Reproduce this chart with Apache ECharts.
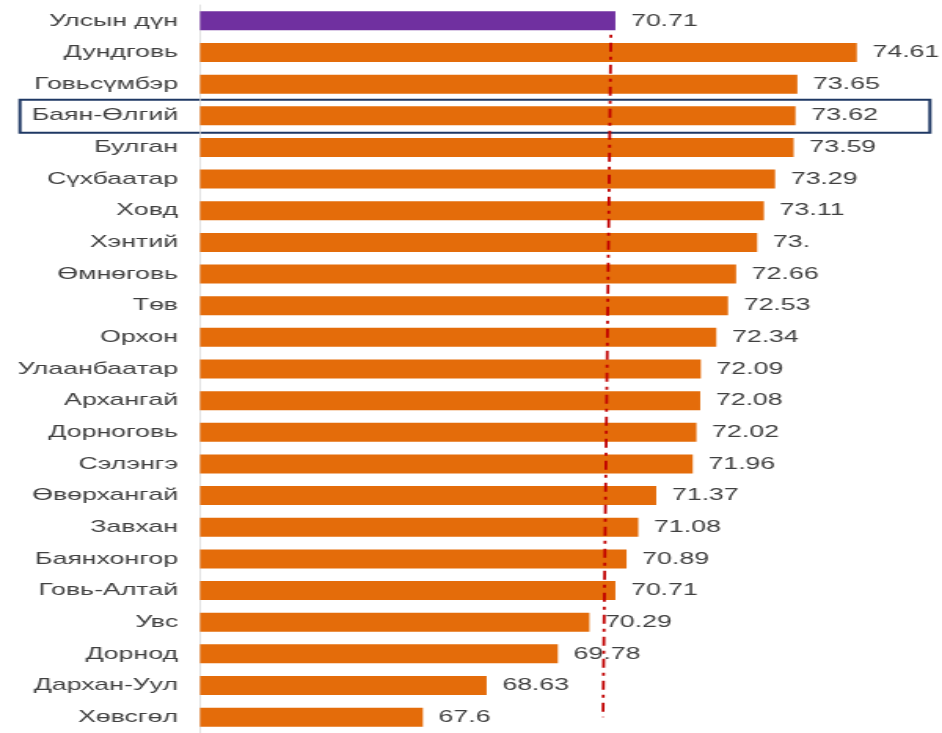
<!DOCTYPE html>
<html>
<head>
<meta charset="utf-8">
<script src="https://cdn.jsdelivr.net/npm/echarts@6/dist/echarts.min.js"></script>
<style>
html,body{margin:0;padding:0;background:#fff;overflow:hidden;}
/* эх зураг хэвтээ чиглэлд сунгагдсан тул адилхан сунгав */
#chart{width:600px;height:733px;transform:scaleX(1.57);transform-origin:0 0;}
</style>
</head>
<body>
<div id="chart"></div>
<script>
// аймгууд
var categories=['Улсын дүн','Дундговь','Говьсүмбэр','Баян-Өлгий','Булган','Сүхбаатар','Ховд','Хэнтий','Өмнөговь','Төв','Орхон','Улаанбаатар','Архангай','Дорноговь','Сэлэнгэ','Өвөрхангай','Завхан','Баянхонгор','Говь-Алтай','Увс','Дорнод','Дархан-Уул','Хөвсгөл'];
var values=[70.71,74.61,73.65,73.62,73.59,73.29,73.11,73.0,72.66,72.53,72.34,72.09,72.08,72.02,71.96,71.37,71.08,70.89,70.71,70.29,69.78,68.63,67.6];
var valueLabels=['70.71','74.61','73.65','73.62','73.59','73.29','73.11','73.','72.66','72.53','72.34','72.09','72.08','72.02','71.96','71.37','71.08','70.89','70.71','70.29','69.78','68.63','67.6'];
var avgLine=[70.64,70.51]; // улсын дундаж шугам (дээд, доод)
var boxed='Баян-Өлгий';

var chart=echarts.init(document.getElementById('chart'));
var font='"Liberation Sans", Arial, sans-serif';

// улсын дүн тусдаа цуваа (шугамаас дээр гарна)
var totalData=values.map(function(v,i){return i==0?v:'-';});
var aimagData=values.map(function(v,i){return i==0?'-':v;});

var lbl={
	show:true,position:'right',distance:10,
	color:'#404040',fontSize:17,fontFamily:font,
	formatter:function(p){return valueLabels[p.dataIndex];}
};

chart.setOption({
	animation:false,
	grid:{left:127.4,right:38.9,top:5,bottom:-2},
	xAxis:{type:'value',min:64,max:75,show:false},
	yAxis:{
		type:'category',
		data:categories,
		inverse:true,
		axisTick:{show:false},
		axisLine:{lineStyle:{color:'#d9d9d9',width:0.8}},
		axisLabel:{color:'#404040',fontSize:17,fontFamily:font,margin:14}
	},
	series:[{
		type:'bar',
		data:aimagData,
		barWidth:19,
		barGap:'-100%',
		itemStyle:{color:'#E46C0A'},
		label:lbl,
		z:2,
		markLine:{
			silent:true,symbol:'none',z:3,
			label:{show:false},
			lineStyle:{color:'#C00000',width:1.8,type:[9,5,3,5]},
			data:[[{coord:[avgLine[0],0]},{coord:[avgLine[1],categories.length-1]}]]
		}
	},{
		type:'bar',
		data:totalData,
		barWidth:19,
		barGap:'-100%',
		itemStyle:{color:'#7030A0'},
		label:lbl,
		z:6
	}]
});

// онцолсон мөрийн хүрээ
var yc=chart.convertToPixel({yAxisIndex:0},boxed);
chart.setOption({
	graphic:[{
		type:'rect',
		shape:{x:12.7,y:yc-16,width:579.6,height:33},
		style:{fill:'none',stroke:'#1F3864',lineWidth:2}
	}]
});
</script>
</body>
</html>
